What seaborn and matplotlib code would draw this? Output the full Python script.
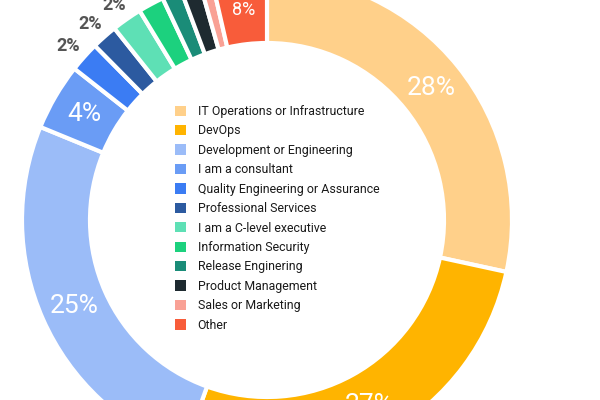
import matplotlib
matplotlib.use("Agg")
import matplotlib.pyplot as plt
import seaborn as sns
import numpy as np

# ---- data ----
categories = [
    "IT Operations or Infrastructure",
    "DevOps",
    "Development or Engineering",
    "I am a consultant",
    "Quality Engineering or Assurance",
    "Professional Services",
    "I am a C-level executive",
    "Information Security",
    "Release Enginering",
    "Product Management",
    "Sales or Marketing",
    "Other",
]
shares = [28.4, 27.1, 25.7, 4.4, 2.0, 1.7, 2.0, 1.7, 1.3, 1.3, 0.8, 3.6]
pct_labels = ["28%", "27%", "25%", "4%", "2%", "2%", "2%", "", "", "", "", "8%"]
label_inside = [True, True, True, True, False, False, False, False, False, False, False, True]
slice_colors = ["#FFD08A", "#FFB400", "#9BBCF8", "#6A9CF5", "#3B7CF3", "#2C5AA0",
                "#5EE0B5", "#1CD17E", "#1A8C78", "#1E2A30", "#F9A195", "#F85C3A"]

sns.set_theme(style="white")
plt.rcParams["font.family"] = ["Roboto", "DejaVu Sans"]
palette = sns.color_palette(slice_colors)

fig = plt.figure(figsize=(6, 4), dpi=100)
ax = fig.add_axes([0, 0, 1, 1])

cx, cy = 267, 180
R_out, width = 245, 68
wedges, _ = ax.pie(shares, colors=palette, startangle=90, counterclock=False,
                   radius=R_out, center=(cx, cy),
                   wedgeprops=dict(width=width, edgecolor="white", linewidth=3))

for w, lab, inside in zip(wedges, pct_labels, label_inside):
    if not lab:
        continue
    mid = np.deg2rad((w.theta1 + w.theta2) / 2)
    if inside:
        r = R_out - width / 2
        size = 19 if lab != "8%" else 13
        ax.text(cx + r * np.cos(mid), cy + r * np.sin(mid), lab, color="white",
                fontsize=size, fontweight="normal", ha="center", va="center")
    else:
        r = R_out * 1.09
        ax.text(cx + r * np.cos(mid), cy + r * np.sin(mid) - 4, lab, color="#555555",
                fontsize=13, fontweight="bold", ha="center", va="center")

ax.set_xlim(0, 600)
ax.set_ylim(0, 400)
ax.set_aspect("equal")
ax.axis("off")

leg = ax.legend(wedges, categories, loc="upper left",
                bbox_to_anchor=(175 / 600, 1 - 105 / 400), bbox_transform=fig.transFigure,
                frameon=False, fontsize=8.9, handlelength=0.89, handleheight=0.89,
                handletextpad=0.95, labelspacing=0.52, borderpad=0, borderaxespad=0)
for t in leg.get_texts():
    t.set_color("#1a1a1a")
for h in leg.legend_handles:
    h.set_edgecolor("none")
    h.set_linewidth(0)

fig.savefig("out.png", dpi=100)
